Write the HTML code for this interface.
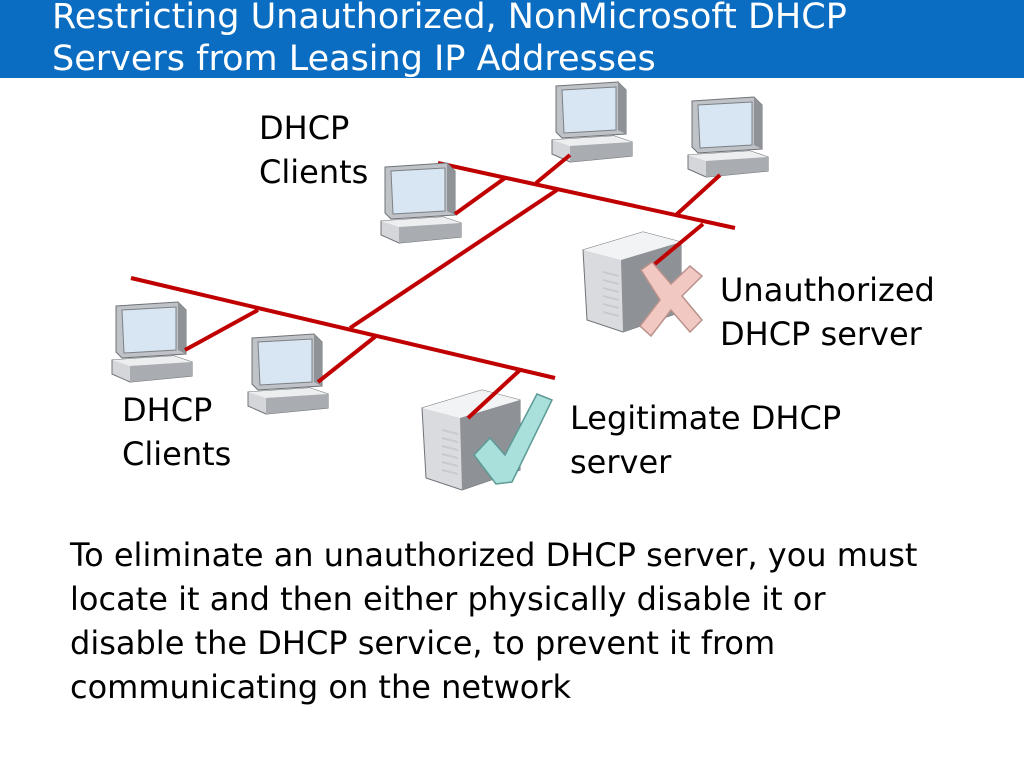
<!DOCTYPE html>
<html><head><meta charset="utf-8"><style>
body{margin:0;width:1024px;height:768px;background:#fff;overflow:hidden;position:relative;font-family:"DejaVu Sans","Liberation Sans",sans-serif;}
.hdr{position:absolute;left:0;top:0;width:1024px;height:78px;background:#0a6dc2;}
.t{position:absolute;color:#fff;font-size:35px;line-height:42px;left:52px;top:-4px;white-space:nowrap;}
.l{position:absolute;font-size:32px;line-height:44px;color:#000;white-space:nowrap;}
</style></head><body>
<div class="hdr"></div>
<div class="t">Restricting Unauthorized, NonMicrosoft DHCP<br>Servers from Leasing IP Addresses</div>
<svg width="1024" height="768" style="position:absolute;left:0;top:0">
<defs>
<g id="pc">
 <path d="M4 4 L66 0 L74 8 L74 52 L10 56 L4 50 Z" fill="#bfc2c6" stroke="#6f7377" stroke-width="1"/>
 <path d="M10 8 L64 5 L64 48 L12 51 Z" fill="#d7e6f2" stroke="#7c8085"/>
 <path d="M66 0 L74 8 L74 52 L66 48 Z" fill="#8f9397"/>
 <path d="M0 58 L62 54 L80 60 L80 74 L18 80 L0 72 Z" fill="#d4d6d9" stroke="#6f7377"/>
 <path d="M0 58 L62 54 L80 60 L18 64 Z" fill="#eceef0"/>
 <path d="M18 64 L80 60 L80 74 L18 80 Z" fill="#a9adb1"/>
</g>
<g id="srv">
 <path d="M0 18 L60 0 L98 10 L98 80 L40 100 L4 88 Z" fill="#d9dbde" stroke="#6f7377"/>
 <path d="M0 18 L60 0 L98 10 L38 28 Z" fill="#f2f3f4"/>
 <path d="M38 28 L98 10 L98 80 L40 100 Z" fill="#8e9296"/>
 <g stroke="#c8cacd" stroke-width="2"><path d="M20 40 L36 44M20 48 L36 52M20 56 L36 60M20 64 L36 68M20 72 L36 76M20 80 L36 84"/></g>
</g>
</defs>
<g stroke="#c00000" stroke-width="4" stroke-linecap="butt" fill="none">
<line x1="438" y1="163" x2="735" y2="228"/>
<line x1="131" y1="278" x2="555" y2="378"/>
<line x1="557" y1="190" x2="350" y2="328"/>
</g>
<use href="#pc" x="552" y="82"/>
<use href="#pc" x="688" y="97"/>
<use href="#pc" x="381" y="163"/>
<use href="#pc" x="112" y="302"/>
<use href="#pc" x="248" y="334"/>
<use href="#srv" x="583" y="232"/>
<use href="#srv" x="422" y="390"/>
<g stroke="#c00000" stroke-width="4" fill="none">
<line x1="570" y1="155" x2="536" y2="183"/>
<line x1="455" y1="214" x2="505" y2="178"/>
<line x1="720" y1="175" x2="676" y2="215"/>
<line x1="703" y1="224" x2="650" y2="268"/>
<line x1="185" y1="350" x2="258" y2="310"/>
<line x1="318" y1="382" x2="376" y2="336"/>
<line x1="468" y1="418" x2="520" y2="370"/>
</g>
<path d="M641 270 L652 262 L671 284 L690 266 L702 276 L682 296 L702 320 L690 332 L671 310 L651 336 L640 326 L660 300 Z" fill="#f2c9c2" stroke="#b9928b" stroke-width="1.5"/>
<path d="M474 455 L490 438 L505 455 L537 394 L552 400 L512 482 L496 484 Z" fill="#a9e0db" stroke="#5d9a96" stroke-width="1.5"/>
</svg>
<div class="l" style="left:259px;top:106px">DHCP<br>Clients</div>
<div class="l" style="left:720px;top:268px">Unauthorized<br>DHCP server</div>
<div class="l" style="left:570px;top:396px">Legitimate DHCP<br>server</div>
<div class="l" style="left:122px;top:388px">DHCP<br>Clients</div>
<div class="l" style="left:70px;top:533px;line-height:44px;font-size:32px">To eliminate an unauthorized DHCP server, you must<br>locate it and then either physically disable it or<br>disable the DHCP service, to prevent it from<br>communicating on the network</div>
</body></html>
